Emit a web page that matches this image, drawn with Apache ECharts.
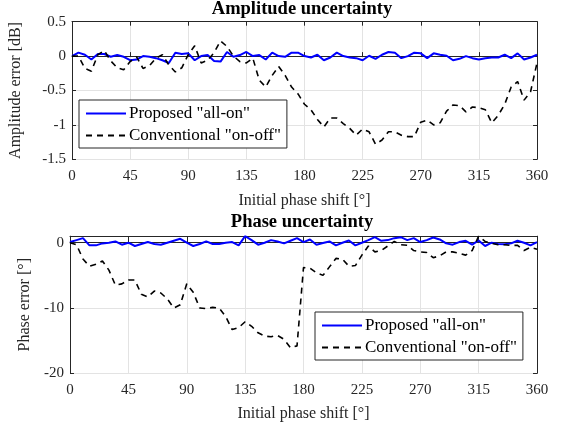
<!DOCTYPE html>
<html>
<head>
<meta charset="utf-8">
<script src="https://cdn.jsdelivr.net/npm/echarts@6/dist/echarts.min.js"></script>
<style>
  html, body { margin: 0; padding: 0; background: #fff; }
  #chart { width: 564px; height: 431px; }
</style>
</head>
<body>
<div id="chart"></div>
<script>
// initial phase shift [deg]
const angles = [0, 5, 10, 15, 20, 25, 30, 35, 40, 45, 50, 55, 60, 65, 70, 75, 80, 85, 90,
  95, 100, 105, 110, 115, 120, 125, 130, 135, 140, 145, 150, 155, 160, 165, 170, 175, 180,
  185, 190, 195, 200, 205, 210, 215, 220, 225, 230, 235, 240, 245, 250, 255, 260, 265, 270,
  275, 280, 285, 290, 295, 300, 305, 310, 315, 320, 325, 330, 335, 340, 345, 350, 355, 360]
const seriesNames = ['Proposed "all-on"', 'Conventional "on-off"']

// amplitude error [dB]
const ampAllOn = [0, 0.05, 0.02, -0.05, 0.03, 0.03, -0.01, 0.015, -0.01, -0.06, -0.05, 0.0,
  -0.01, -0.03, -0.06, -0.1, 0.05, 0.03, 0.04, -0.06, 0.0, 0.015, -0.07, -0.08, 0.06, -0.01,
  0.015, 0.06, 0.0, 0.015, -0.05, 0.05, 0.0, -0.01, 0.05, 0.05, 0.0, -0.02, 0.02, -0.06,
  -0.02, 0.05, 0.0, -0.02, -0.03, -0.06, 0.005, -0.04, 0.02, 0.06, 0.05, -0.03, 0.0, 0.05,
  0.04, -0.03, 0.04, 0.02, 0.005, -0.06, -0.04, 0.0, -0.03, -0.05, -0.03, -0.02, -0.02,
  0.02, -0.03, 0.04, -0.05, -0.02, 0.02]
const ampOnOff = [0, 0, -0.18, -0.22, 0.02, 0.08, -0.07, -0.17, -0.2, -0.08, -0.01, -0.18,
  -0.14, -0.03, 0.02, -0.13, -0.23, -0.17, 0.02, 0.15, -0.1, -0.06, 0.05, 0.22, 0.14, 0.0,
  -0.08, -0.1, -0.03, -0.35, -0.45, -0.28, -0.15, -0.28, -0.45, -0.55, -0.7, -0.78, -0.92,
  -1.03, -0.9, -0.9, -0.98, -1.05, -1.15, -1.06, -1.1, -1.28, -1.22, -1.1, -1.1, -1.15,
  -1.17, -1.17, -0.96, -0.93, -1.0, -0.97, -0.8, -0.71, -0.72, -0.81, -0.74, -0.75, -0.78,
  -0.97, -0.86, -0.7, -0.45, -0.37, -0.64, -0.52, -0.1]

// phase error [deg]
const phaseAllOn = [0.1, 0.4, 0.7, -0.4, -0.4, -0.1, 0.0, 0.2, -0.3, 0.0, -0.5, -0.2, 0.1,
  -0.2, -0.3, 0.0, 0.3, 0.6, 0.0, -0.5, -0.2, 0.2, -0.2, -0.2, 0.0, 0.1, -0.4, 1.0, 0.4,
  -0.3, 0.0, 0.4, 0.2, -0.1, 0.3, 0.7, 0.1, 0.5, -0.3, -0.05, 0.2, -0.4, 0.0, 0.35, -0.4,
  0.0, 0.4, 0.85, 0.3, 0.4, 0.7, 0.85, 0.4, 0.7, 0.1, 0.4, 0.8, 0.5, -0.1, -0.3, 0.1, 0.3,
  -0.3, 0.35, -0.5, 0.0, -0.2, -0.25, -0.1, 0.3, 0.0, -0.4, 0.1]
const phaseOnOff = [0, -0.3, -2.5, -3.6, -3.3, -2.8, -4.2, -6.5, -6.3, -5.7, -5.7, -7.9,
  -8.3, -7.4, -7.7, -8.6, -10.0, -9.5, -6.3, -7.6, -10.0, -10.1, -9.9, -10.0, -11.3, -13.3,
  -13.0, -12.1, -12.8, -13.8, -14.3, -14.4, -14.2, -14.8, -16.1, -15.8, -3.8, -3.9, -4.6,
  -5.0, -3.7, -2.4, -2.5, -3.6, -3.5, -1.9, -0.5, -1.4, -1.2, -0.5, 0.2, -0.3, -0.4, -1.2,
  -1.4, -1.5, -2.3, -2.0, -1.4, -1.4, -1.6, -1.9, -1.2, 1.0, 0.2, -0.1, -0.3, -0.3, -0.4,
  -0.4, -1.2, -0.7, -1.0]

const font = 'Liberation Serif, Times New Roman, serif'
const axisColor = '#262626'
const pairs = (vals) => angles.map((a, i) => [a, vals[i]])

const myChart = echarts.init(document.getElementById('chart'))

const xAxisBase = (gridIndex, gap) => ({
  type: 'value',
  gridIndex,
  min: 0,
  max: 360,
  interval: 45,
  name: 'Initial phase shift [°]',
  nameLocation: 'middle',
  nameGap: gap,
  nameTextStyle: { fontFamily: font, fontSize: 16, color: axisColor },
  axisLine: { lineStyle: { color: axisColor, width: 1 } },
  axisTick: { inside: true, length: 4, lineStyle: { color: axisColor } },
  axisLabel: { fontFamily: font, fontSize: 15, color: axisColor, margin: 9 },
  splitLine: { show: true, lineStyle: { color: '#e3e3e3', width: 1 } }
})

// top / right axes only close the box and carry inner ticks
const boxAxis = (gridIndex, pos, min, max, interval) => ({
  type: 'value',
  gridIndex,
  position: pos,
  min, max, interval,
  axisLine: { show: true, onZero: false, lineStyle: { color: axisColor, width: 1 } },
  axisTick: { show: true, inside: true, length: 4, lineStyle: { color: axisColor } },
  axisLabel: { show: false },
  splitLine: { show: false }
})

const lineSeries = (name, xi, yi, vals, dashed) => ({
  name,
  type: 'line',
  xAxisIndex: xi,
  yAxisIndex: yi,
  data: pairs(vals),
  symbol: 'none',
  animation: false,
  lineStyle: dashed
    ? { color: '#000', width: 1.6, type: [6, 5] }
    : { color: '#0000ff', width: 2 },
  itemStyle: { color: dashed ? '#000' : '#0000ff' }
})

const legendBase = (left, top) => ({
  orient: 'vertical',
  left, top,
  data: seriesNames,
  itemWidth: 40,
  itemHeight: 14,
  itemGap: 5,
  padding: [5, 6, 4, 6],
  backgroundColor: '#fff',
  borderColor: axisColor,
  borderWidth: 1,
  borderRadius: 0,
  selectedMode: false,
  itemStyle: { opacity: 0 },
  lineStyle: { inactiveWidth: 2 },
  textStyle: { fontFamily: font, fontSize: 17, color: '#000', padding: [0, 0, 0, -2] }
})

const titleStyle = { fontFamily: font, fontSize: 18.5, fontWeight: 'bold', color: '#000' }

const option = {
  backgroundColor: '#fff',
  animation: false,
  title: [
    { text: 'Amplitude uncertainty', left: 302, top: 0, padding: 0, textAlign: 'center',
      textStyle: titleStyle },
    { text: 'Phase uncertainty', left: 302, top: 213, padding: 0, textAlign: 'center',
      textStyle: titleStyle }
  ],
  legend: [legendBase(79, 100), legendBase(315, 312)],
  grid: [
    { left: 70, right: 27, top: 21.7, height: 137.6 },
    { left: 70, right: 27, top: 236.2, height: 137.1 }
  ],
  xAxis: [
    xAxisBase(0, 33),
    xAxisBase(1, 32),
    boxAxis(0, 'top', 0, 360, 45),
    boxAxis(1, 'top', 0, 360, 45)
  ],
  yAxis: [
    {
      type: 'value', gridIndex: 0, min: -1.5, max: 0.5, interval: 0.5,
      name: 'Amplitude error [dB]', nameLocation: 'middle', nameGap: 48,
      nameTextStyle: { fontFamily: font, fontSize: 16, color: axisColor },
      axisLine: { show: true, onZero: false, lineStyle: { color: axisColor } },
      axisTick: { show: true, inside: true, length: 4, lineStyle: { color: axisColor } },
      axisLabel: { fontFamily: font, fontSize: 15, color: axisColor, margin: 6 },
      splitLine: { show: true, lineStyle: { color: '#e3e3e3' } }
    },
    {
      type: 'value', gridIndex: 1, min: -20, max: 1, interval: 10,
      name: 'Phase error [°]', nameLocation: 'middle', nameGap: 33,
      nameTextStyle: { fontFamily: font, fontSize: 16, color: axisColor },
      axisLine: { show: true, onZero: false, lineStyle: { color: axisColor } },
      axisTick: { show: true, inside: true, length: 4, lineStyle: { color: axisColor } },
      axisLabel: { fontFamily: font, fontSize: 15, color: axisColor, margin: 6,
        formatter: (v) => (v > 0 ? '' : String(v)) },
      splitLine: { show: true, lineStyle: { color: '#e3e3e3' } }
    },
    boxAxis(0, 'right', -1.5, 0.5, 0.5),
    boxAxis(1, 'right', -20, 1, 10)
  ],
  series: [
    lineSeries(seriesNames[0], 0, 0, ampAllOn, false),
    lineSeries(seriesNames[1], 0, 0, ampOnOff, true),
    lineSeries(seriesNames[0], 1, 1, phaseAllOn, false),
    lineSeries(seriesNames[1], 1, 1, phaseOnOff, true)
  ]
}

myChart.setOption(option)
</script>
</body>
</html>
